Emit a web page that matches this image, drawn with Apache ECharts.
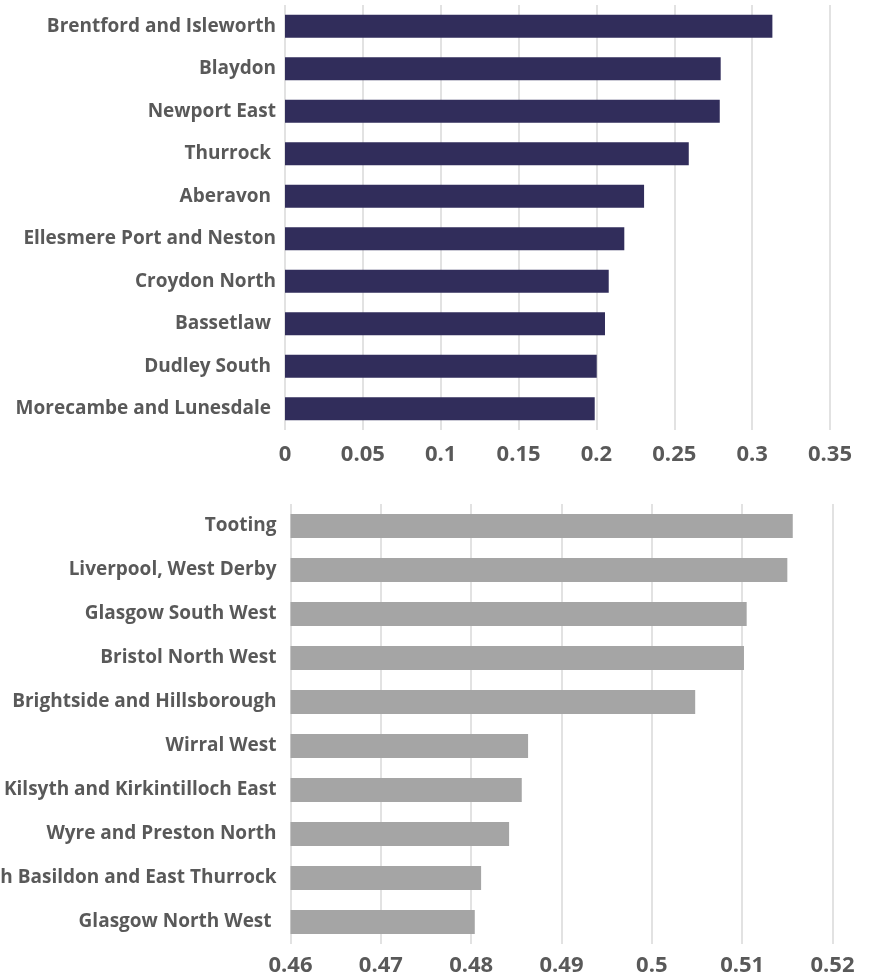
<!DOCTYPE html>
<html>
<head>
<meta charset="utf-8">
<script src="https://cdn.jsdelivr.net/npm/echarts@6/dist/echarts.min.js"></script>
<style>
html,body{margin:0;padding:0;background:#fff;}
#chart{width:872px;height:978px;}
</style>
</head>
<body>
<div id="chart"></div>
<script>
// Top panel (navy)
const topCategories = [
  "Brentford and Isleworth", "Blaydon", "Newport East", "Thurrock ", "Aberavon ",
  "Ellesmere Port and Neston", "Croydon North", "Bassetlaw ", "Dudley South ", "Morecambe and Lunesdale "
];
const topValues = [0.313, 0.2798, 0.2792, 0.2593, 0.2306, 0.2179, 0.2079, 0.2055, 0.2002, 0.1989];
const topTicks = [0, 0.05, 0.1, 0.15, 0.2, 0.25, 0.3, 0.35];

// Bottom panel (gray)
const bottomCategories = [
  "Tooting", "Liverpool, West Derby", "Glasgow South West", "Bristol North West",
  "Brightside and Hillsborough", "Wirral West", "Cumbernauld, Kilsyth and Kirkintilloch East",
  "Wyre and Preston North", "South Basildon and East Thurrock", "Glasgow North West "
];
const bottomValues = [0.5156, 0.5150, 0.5105, 0.5102, 0.5048, 0.4863, 0.4856, 0.4842, 0.4811, 0.4804];
const bottomTicks = [0.46, 0.47, 0.48, 0.49, 0.5, 0.51, 0.52];

const FONT = "'Open Sans', 'Noto Sans', sans-serif";
const TXT = "#595959";
const GRIDC = "#d9d9d9";

function valueAxis(gridIndex, ticks, margin) {
  const step = +(ticks[1] - ticks[0]).toFixed(4);
  return {
    type: 'value', gridIndex: gridIndex,
    min: ticks[0], max: ticks[ticks.length - 1], interval: step,
    axisLine: {show: false}, axisTick: {show: false},
    splitLine: {show: true, lineStyle: {color: GRIDC, width: 1.5}},
    axisLabel: {
      color: TXT, fontFamily: FONT, fontWeight: 'bold', fontSize: 22, margin: margin,
      formatter: function (v) { return String(+v.toFixed(4)); }
    }
  };
}
function catAxis(gridIndex, cats, margin) {
  return {
    type: 'category', gridIndex: gridIndex, data: cats, inverse: true,
    axisLine: {show: false}, axisTick: {show: false},
    axisLabel: {color: TXT, fontFamily: FONT, fontWeight: 'bold', fontSize: 19, margin: margin, interval: 0}
  };
}

const chart = echarts.init(document.getElementById('chart'), null, {renderer: 'canvas'});
chart.setOption({
  animation: false,
  backgroundColor: '#ffffff',
  grid: [
    {left: 285, top: 5, width: 545, height: 425, containLabel: false, outerBoundsMode: 'none'},
    {left: 290.5, top: 504, width: 542, height: 440, containLabel: false, outerBoundsMode: 'none'}
  ],
  xAxis: [valueAxis(0, topTicks, 14), valueAxis(1, bottomTicks, 11)],
  yAxis: [catAxis(0, topCategories, 9), catAxis(1, bottomCategories, 14)],
  series: [
    {type: 'bar', xAxisIndex: 0, yAxisIndex: 0, data: topValues, barCategoryGap: '46%',
     itemStyle: {color: '#312d5b'}},
    {type: 'bar', xAxisIndex: 1, yAxisIndex: 1, data: bottomValues, barCategoryGap: '46%',
     itemStyle: {color: '#a5a5a5'}}
  ]
});
</script>
</body>
</html>
